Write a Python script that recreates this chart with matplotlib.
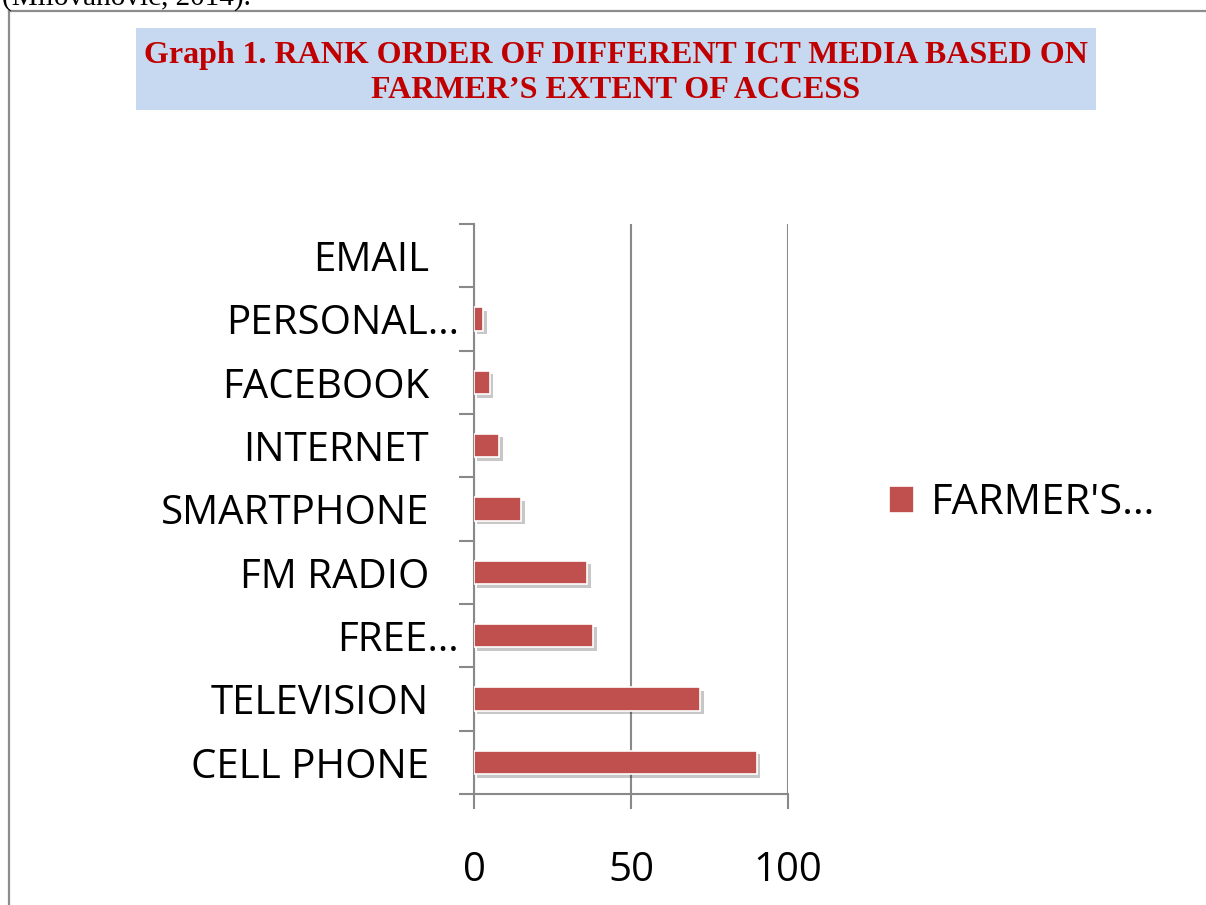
import matplotlib.pyplot as plt
import matplotlib.patheffects as pe
from matplotlib.patches import Rectangle
from matplotlib.lines import Line2D
from matplotlib.transforms import ScaledTranslation

# Data (bottom to top, as drawn)
media = ['CELL PHONE', 'TELEVISION', 'FREE…', 'FM RADIO', 'SMARTPHONE',
         'INTERNET', 'FACEBOOK', 'PERSONAL…', 'EMAIL']
access = [90, 72, 38, 36, 15, 8, 5, 3, 0]
series_name = "FARMER'S…"
x_ticks = [0, 50, 100]

bar_color = '#C0504D'
axis_gray = '#898989'

fig = plt.figure(figsize=(12.06, 9.05), dpi=100)
W, H = 1206, 905

# Frame of the chart object and the cut-off citation above it
fig.add_artist(Line2D([9 / W, 9 / W], [0, 1 - 11 / H], color='#8c8c8c', lw=1.6))
fig.add_artist(Line2D([9 / W, 1], [1 - 11 / H, 1 - 11 / H], color='#8c8c8c', lw=1.6))
fig.text(2 / W, 1 - 5 / H, '(Milovanovic, 2014).', family='Liberation Serif',
         fontsize=21, va='baseline', ha='left', color='black')

# Title box
fig.add_artist(Rectangle((136 / W, 1 - 110 / H), (1096 - 136) / W, (110 - 28) / H,
                         transform=fig.transFigure, facecolor='#C6D9F1', edgecolor='none'))
fig.text(616 / W, 1 - 55 / H, 'Graph 1. RANK ORDER OF DIFFERENT ICT MEDIA BASED ON',
         family='Liberation Serif', weight='bold', fontsize=23, color='#C00000',
         ha='center', va='center')
fig.text(616 / W, 1 - 91 / H, 'FARMER\u2019S EXTENT OF ACCESS',
         family='Liberation Serif', weight='bold', fontsize=23, color='#C00000',
         ha='center', va='center')

ax = fig.add_axes([474 / W, 1 - 794 / H, (788 - 474) / W, (794 - 224) / H])
ypos = list(range(len(media)))
bars = ax.barh(ypos, access, height=0.37, color=bar_color, edgecolor='white',
               linewidth=1.2, label=series_name, zorder=3)
for b, v in zip(bars, access):
    if v == 0:
        b.set_linewidth(0)
        continue
    b.set_path_effects([pe.SimplePatchShadow(offset=(2.5, -2.5), shadow_rgbFace='k', alpha=0.22),
                        pe.Normal()])

ax.set_xlim(0, 100)
ax.set_ylim(-0.5, len(media) - 0.5)
ax.set_xticks(x_ticks)
ax.set_xticklabels([str(v) for v in x_ticks])
ax.set_yticks(ypos)
ax.set_yticklabels(media)
ax.set_yticks([i - 0.5 for i in range(len(media) + 1)], minor=True)

for s in ['top', 'right']:
    ax.spines[s].set_visible(False)
for s in ['left', 'bottom']:
    ax.spines[s].set_color(axis_gray)
    ax.spines[s].set_linewidth(1.5)

ax.grid(axis='x', color=axis_gray, linewidth=1.5, zorder=0)
ax.set_axisbelow(True)

ax.tick_params(axis='x', which='major', length=10.8, width=1.5, color=axis_gray,
               pad=30, labelsize=29)
ax.tick_params(axis='y', which='major', length=0, pad=32.4, labelsize=29)
ax.tick_params(axis='y', which='minor', length=10.8, width=1.5, color=axis_gray)
for lab in ax.get_xticklabels() + ax.get_yticklabels():
    lab.set_family('Open Sans')

# truncated labels spill their ellipsis past the usual right edge
for lab in ax.get_yticklabels():
    if lab.get_text().endswith('…'):
        lab.set_transform(lab.get_transform() + ScaledTranslation(0.30, 0, fig.dpi_scale_trans))

leg = ax.legend(loc='center left', bbox_to_anchor=(889 / W, 1 - 503 / H),
                bbox_transform=fig.transFigure, frameon=False, borderpad=0,
                borderaxespad=0, handlelength=0.6, handleheight=0.6,
                handletextpad=0.4, prop={'family': 'Open Sans', 'size': 30})
for h in leg.legend_handles:
    h.set_path_effects([])

fig.savefig('out.png', dpi=100)
